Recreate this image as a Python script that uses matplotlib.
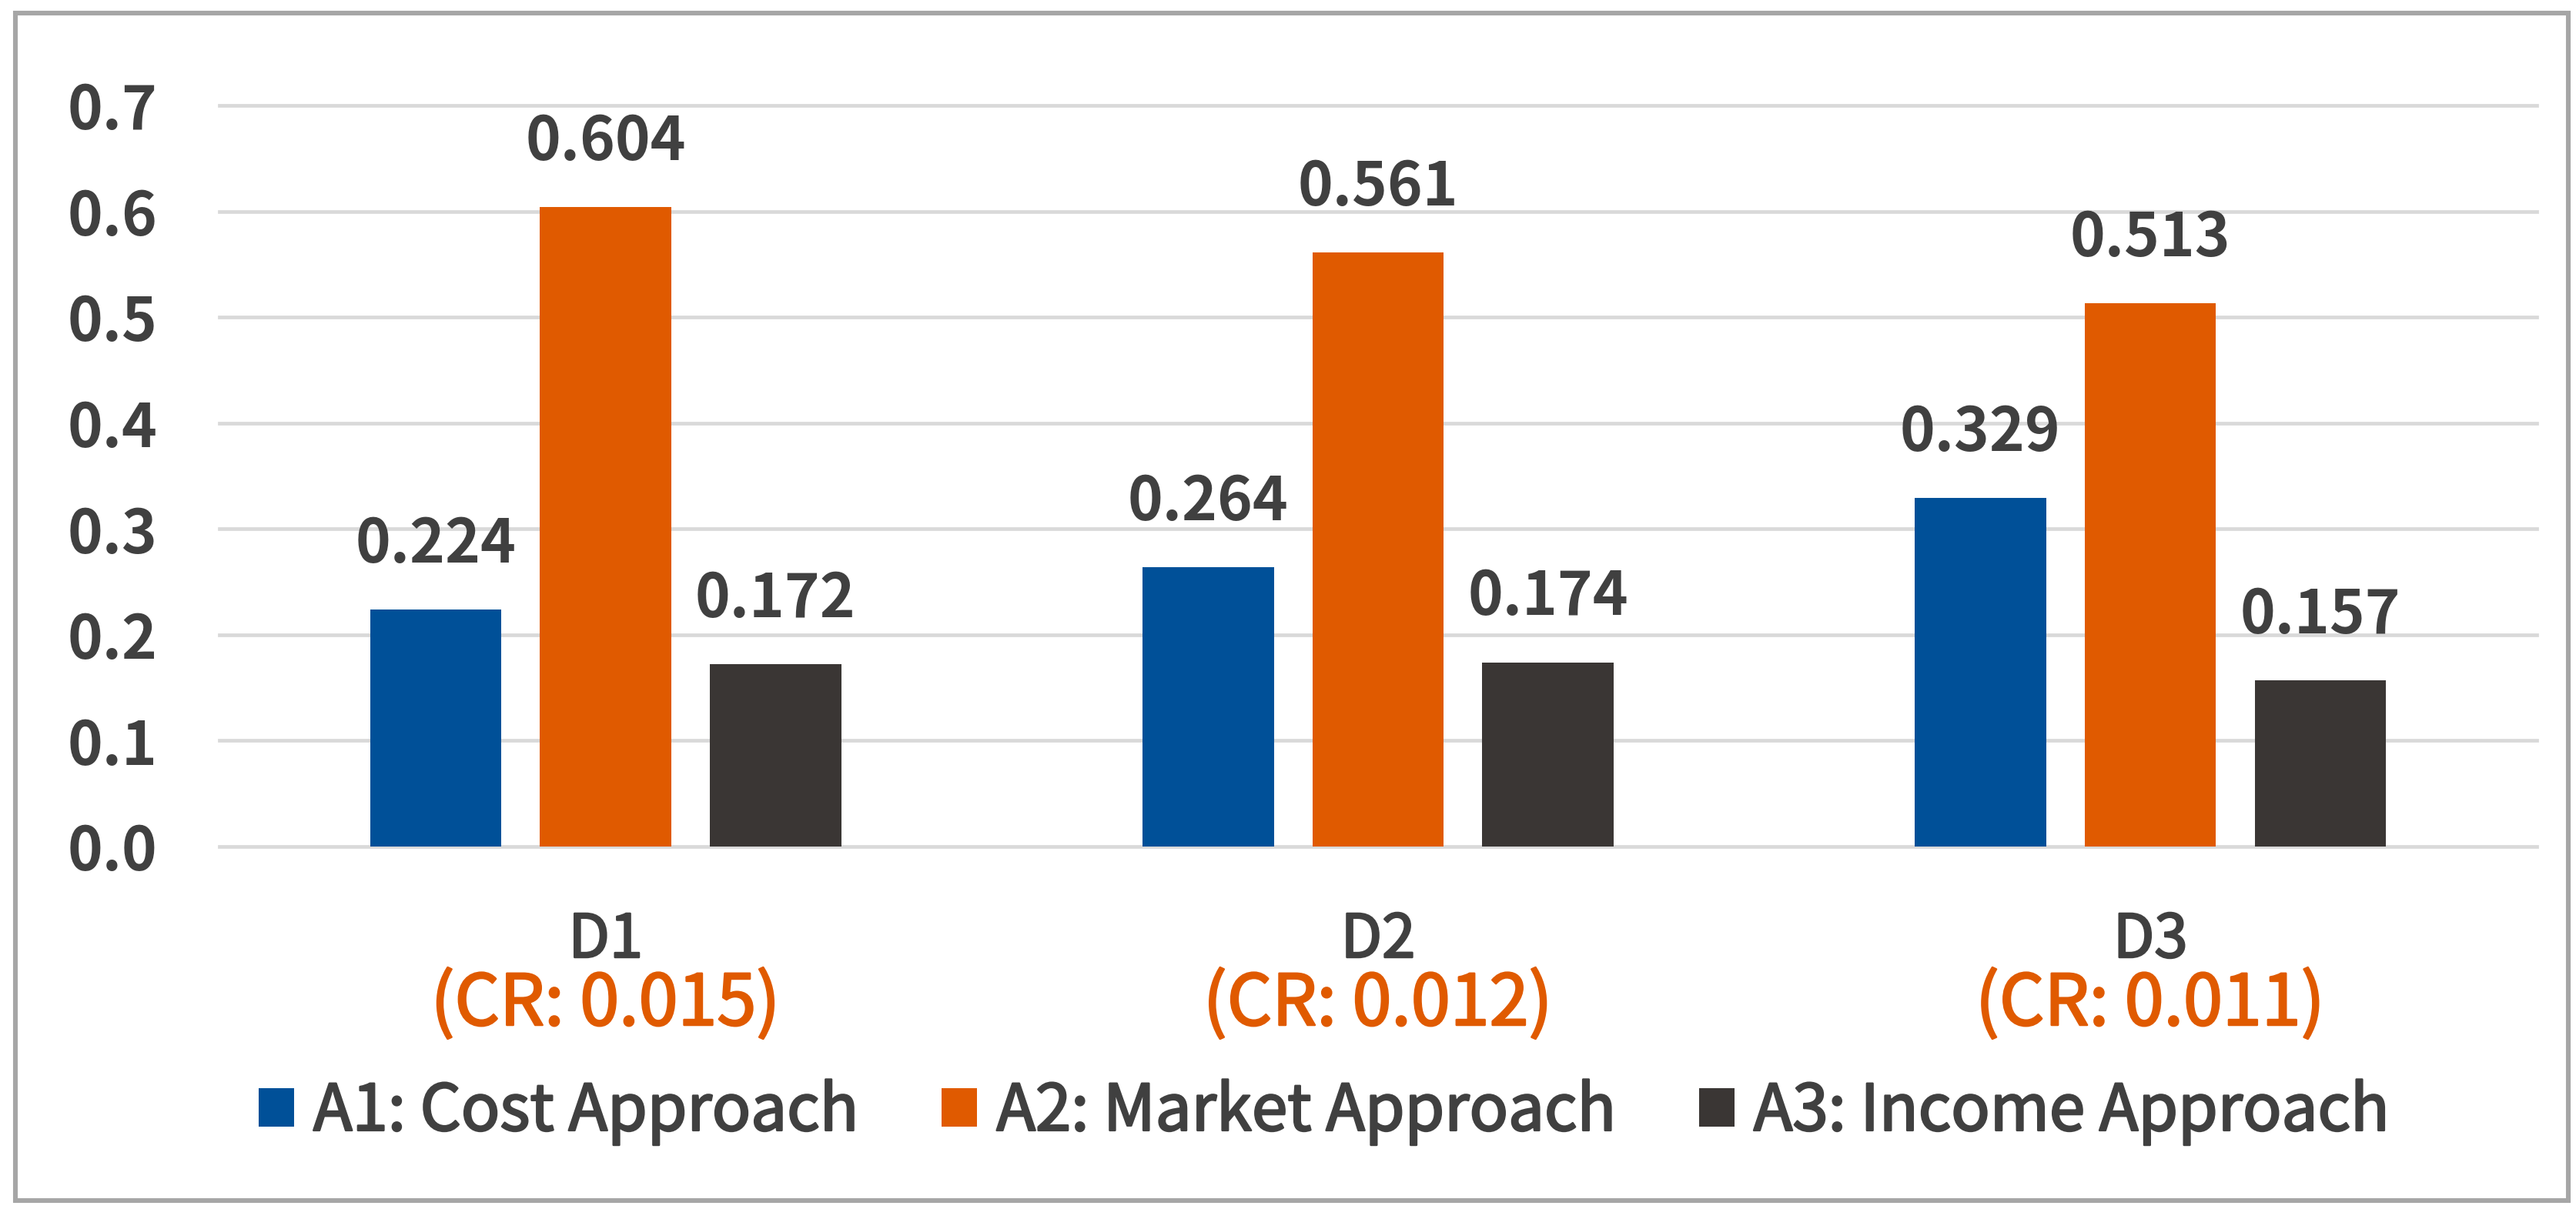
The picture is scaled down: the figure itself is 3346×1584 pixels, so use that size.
import numpy as np
import matplotlib
matplotlib.use("Agg")
import matplotlib.pyplot as plt
import matplotlib.patheffects as pe
from matplotlib.patches import Rectangle, Patch

# data
categories = ["D1", "D2", "D3"]
cr_labels = ["(CR: 0.015)", "(CR: 0.012)", "(CR: 0.011)"]
series_names = ["A1: Cost Approach", "A2: Market Approach", "A3: Income Approach"]
a1_cost = [0.224, 0.264, 0.329]
a2_market = [0.604, 0.561, 0.513]
a3_income = [0.172, 0.174, 0.157]
yticks = [0.0, 0.1, 0.2, 0.3, 0.4, 0.5, 0.6, 0.7]

colors = ["#005098", "#E05A00", "#3A3634"]
text_col = "#404040"
grid_col = "#D9D9D9"

plt.rcParams['font.family'] = ['Noto Sans CJK KR', 'DejaVu Sans']

fig = plt.figure(figsize=(16.73, 7.92), dpi=200)
ax = fig.add_axes([0.0852, 0.3056, 0.8995, 0.6079])

x = np.arange(len(categories))
width = 0.17
step = 0.22
series = [a1_cost, a2_market, a3_income]

for i, vals in enumerate(series):
    pos = x + (i - 1) * step
    bars = ax.bar(pos, vals, width, color=colors[i], label=series_names[i], zorder=3)
    for b, v in zip(bars, vals):
        ax.annotate(f"{v:.3f}", (b.get_x() + b.get_width() / 2, v),
                    xytext=(0, 22), textcoords="offset points",
                    ha="center", va="baseline", fontsize=28,
                    fontweight="bold", color=text_col)

ax.set_xlim(-0.5, 2.5)
ax.set_ylim(0, 0.7)
ax.set_yticks(yticks)
ax.set_yticklabels([f"{t:.1f}" for t in yticks], fontsize=28,
                   fontweight="bold", color=text_col)
ax.tick_params(axis="y", length=0, pad=29)
ax.set_xticks([])
for t in yticks:
    ax.axhline(t, color=grid_col, lw=1.7, zorder=1, clip_on=False)
for s in ax.spines.values():
    s.set_visible(False)

# semi-bold look for the lighter texts
thick_grey = [pe.withStroke(linewidth=0.9, foreground=text_col)]
thick_orange = [pe.withStroke(linewidth=0.9, foreground="#E05A00")]

# category labels and CR values under the axis
for xi, cat, cr in zip(x, categories, cr_labels):
    ax.text(xi, -0.127, cat, transform=ax.get_xaxis_transform(),
            ha="center", va="center", fontsize=28, color=text_col,
            path_effects=thick_grey)
    ax.text(xi, -0.214, cr, transform=ax.get_xaxis_transform(),
            ha="center", va="center", fontsize=33, color="#E05A00",
            path_effects=thick_orange)

handles = [Patch(facecolor=c) for c in colors]
leg = fig.legend(handles, series_names, loc="center", bbox_to_anchor=(0.514, 0.088),
                 ncol=3, frameon=False, handlelength=0.55,
                 handleheight=0.55, handletextpad=0.3, columnspacing=1.3,
                 labelcolor=text_col, prop={"size": 30})
for t in leg.get_texts():
    t.set_path_effects(thick_grey)

# outer frame of the chart
fig.patches.append(Rectangle((0.006, 0.015), 0.991, 0.974, transform=fig.transFigure,
                             fill=False, edgecolor="#A6A6A6", lw=2.2))

fig.savefig("out.png", dpi=200, facecolor="white")
